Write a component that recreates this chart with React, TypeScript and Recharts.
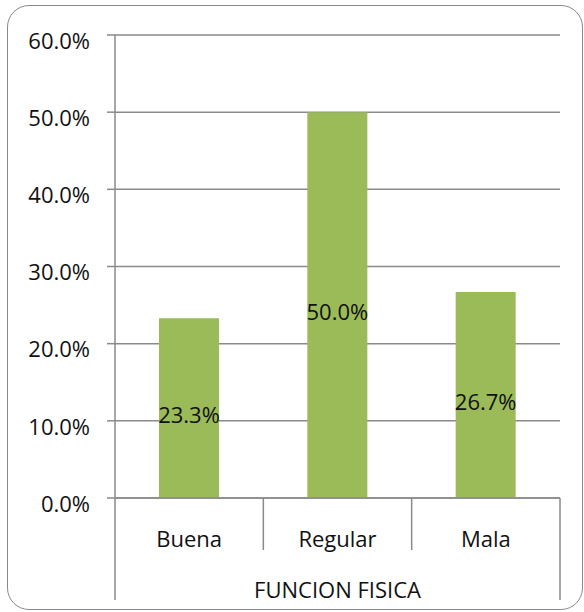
import React from 'react'
import { BarChart, Bar, XAxis, YAxis, CartesianGrid, LabelList } from 'recharts'

const categories = ['Buena', 'Regular', 'Mala']
const values = [23.3, 50.0, 26.7]
const yTicks = [0, 10, 20, 30, 40, 50, 60]
const groupLabel = 'FUNCION FISICA'

const data = categories.map((name, i) => ({ name, value: values[i] }))

const FONT = '"Open Sans", "DejaVu Sans", sans-serif'
const LINE = '#8a8a8a'
const pct = (v: number) => `${v.toFixed(1)}%`

const YTick = (props: any) => {
  const { x, y, payload } = props
  return (
    <text x={x} y={y + 6} dy="0.355em" textAnchor="end" fontFamily={FONT} fontSize={22} fill="#111">
      {pct(payload.value)}
    </text>
  )
}

const XTick = (props: any) => {
  const { x, y, payload, index, visibleTicksCount } = props
  const half = payload.offset || 74
  const last = index === (visibleTicksCount ?? categories.length) - 1
  return (
    <g>
      <line x1={x - half} x2={x - half} y1={y} y2={y + (index === 0 ? 102 : 52)} stroke={LINE} strokeWidth={1.5} />
      {last && <line x1={x + half} x2={x + half} y1={y} y2={y + 102} stroke={LINE} strokeWidth={1.5} />}
      <text x={x} y={y + 49} textAnchor="middle" fontFamily={FONT} fontSize={22} fill="#111">
        {payload.value}
      </text>
    </g>
  )
}

const BarLabel = (props: any) => {
  const { x, y, width, height, value } = props
  return (
    <text x={x + width / 2} y={y + height / 2 + 7} dy="0.355em" textAnchor="middle" fontFamily={FONT} fontSize={22} fill="#111">
      {pct(value)}
    </text>
  )
}

export default function App() {
  return (
    <div style={{ position: 'absolute', left: 0, top: 0, width: 584, height: 612, background: '#fff' }}>
      <div
        style={{
          position: 'absolute',
          left: 7,
          top: 5,
          width: 574,
          height: 603,
          border: `1.5px solid ${LINE}`,
          borderRadius: 22,
        }}
      />
      <div style={{ position: 'absolute', left: 0, top: 0 }}>
        <BarChart width={584} height={612} data={data} margin={{ top: 35, right: 24, bottom: 0, left: 0 }}>
          <CartesianGrid vertical={false} stroke={LINE} strokeWidth={1.5} />
          <XAxis
            dataKey="name"
            height={114}
            axisLine={{ stroke: LINE, strokeWidth: 1.5 }}
            tickLine={false}
            tickSize={0}
            tickMargin={0}
            tick={<XTick />}
            interval={0}
            label={{ value: groupLabel, position: 'insideBottom', offset: 14, fill: '#111', fontSize: 22, fontFamily: FONT }}
          />
          <YAxis
            width={115}
            domain={[0, 60]}
            ticks={yTicks}
            interval={0}
            axisLine={{ stroke: LINE, strokeWidth: 1.5 }}
            tickLine={{ stroke: LINE, strokeWidth: 1.5 }}
            tickSize={8}
            tickMargin={17}
            tick={<YTick />}
          />
          <Bar dataKey="value" fill="#9BBB59" barSize={60} isAnimationActive={false}>
            <LabelList dataKey="value" content={<BarLabel />} />
          </Bar>
        </BarChart>
      </div>
    </div>
  )
}
